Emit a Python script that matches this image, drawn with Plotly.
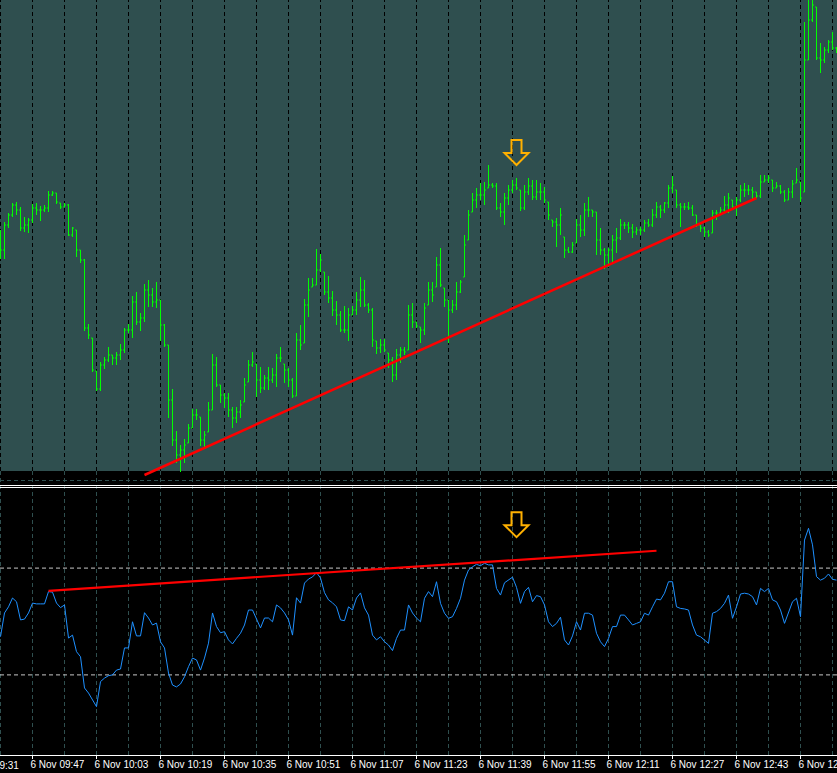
import plotly.graph_objects as go

W, H = 837, 773

# ---------------- data ----------------
bar_index = list(range(210))

high = [270, 278, 287, 297, 298, 293, 283, 282, 296, 297,
        294, 295, 309, 309, 307, 297, 297, 296, 273, 270,
        250, 241, 176, 162, 129, 138, 143, 153, 145, 148,
        156, 172, 176, 204, 208, 187, 216, 220, 212, 218,
        200, 176, 155, 111, 69, 55, 61, 76, 91, 91,
        83, 69, 98, 146, 143, 115, 107, 107, 93, 93,
        100, 122, 140, 148, 136, 133, 125, 133, 132, 146,
        153, 136, 132, 122, 167, 175, 201, 222, 222, 251,
        246, 228, 224, 209, 199, 189, 194, 192, 194, 208,
        223, 220, 197, 192, 159, 161, 161, 147, 143, 151,
        153, 153, 195, 197, 178, 173, 197, 218, 218, 243,
        252, 212, 200, 200, 218, 220, 265, 290, 307, 312,
        317, 318, 335, 317, 317, 297, 307, 315, 320, 322,
        310, 315, 322, 320, 320, 317, 313, 298, 280, 282,
        292, 263, 253, 258, 281, 285, 297, 303, 290, 288,
        272, 252, 252, 265, 272, 281, 278, 278, 276, 273,
        273, 280, 281, 291, 298, 295, 298, 315, 324, 310,
        297, 297, 298, 295, 285, 275, 273, 270, 290, 290,
        293, 304, 307, 300, 303, 315, 317, 315, 313, 308,
        325, 325, 325, 320, 318, 315, 310, 312, 320, 332,
        318, 478, 510, 510, 493, 457, 453, 460, 468, 453]

low = [241, 241, 272, 283, 285, 269, 268, 267, 277, 285,
       279, 288, 288, 304, 296, 291, 293, 264, 263, 243,
       237, 169, 161, 128, 109, 109, 131, 138, 135, 135,
       140, 147, 167, 162, 175, 169, 178, 193, 193, 192,
       159, 153, 82, 54, 37, 28, 37, 57, 72, 80,
       54, 53, 68, 90, 113, 97, 92, 83, 72, 77,
       82, 98, 118, 133, 103, 107, 110, 110, 117, 113,
       138, 117, 113, 102, 104, 150, 157, 183, 213, 215,
       228, 205, 197, 184, 175, 168, 167, 159, 185, 185,
       193, 193, 187, 153, 146, 147, 148, 132, 118, 120,
       137, 145, 150, 172, 172, 157, 165, 195, 198, 213,
       213, 193, 157, 187, 190, 207, 223, 260, 288, 292,
       300, 295, 312, 312, 290, 283, 275, 295, 307, 310,
       289, 290, 305, 300, 300, 300, 297, 280, 273, 253,
       265, 242, 247, 247, 257, 263, 264, 283, 283, 245,
       245, 231, 233, 237, 247, 260, 271, 267, 262, 265,
       265, 268, 273, 273, 282, 282, 287, 292, 307, 292,
       273, 290, 290, 284, 273, 268, 263, 263, 267, 280,
       285, 288, 287, 292, 284, 298, 303, 305, 300, 302,
       302, 318, 317, 308, 312, 306, 298, 300, 302, 317,
       298, 308, 440, 478, 440, 427, 437, 447, 450, 447]

open_ = [245, 250, 275, 285, 295, 290, 272, 275, 280, 292,
         290, 290, 292, 305, 307, 297, 293, 295, 265, 270,
         250, 240, 172, 162, 129, 111, 135, 140, 145, 142,
         145, 150, 170, 170, 198, 178, 182, 210, 205, 198,
         200, 175, 155, 100, 60, 45, 50, 57, 72, 85,
         83, 60, 68, 90, 135, 115, 105, 102, 90, 82,
         88, 98, 118, 135, 136, 120, 112, 122, 120, 125,
         142, 136, 130, 120, 104, 160, 157, 195, 213, 215,
         230, 228, 208, 202, 190, 185, 170, 170, 185, 190,
         200, 210, 195, 190, 159, 152, 155, 147, 140, 125,
         145, 150, 150, 185, 178, 173, 170, 195, 210, 213,
         235, 212, 200, 190, 195, 208, 223, 260, 288, 300,
         305, 305, 312, 315, 314, 292, 288, 302, 310, 315,
         310, 292, 308, 314, 303, 308, 308, 298, 280, 278,
         275, 263, 250, 248, 257, 275, 270, 290, 290, 288,
         260, 250, 245, 250, 260, 262, 275, 275, 272, 268,
         270, 270, 277, 275, 285, 293, 290, 297, 312, 310,
         295, 293, 293, 292, 285, 275, 272, 268, 267, 287,
         287, 290, 295, 300, 293, 300, 310, 310, 310, 308,
         304, 318, 320, 320, 312, 314, 308, 300, 308, 317,
         318, 308, 440, 480, 493, 442, 440, 450, 458, 452]

close = [250, 275, 285, 295, 290, 272, 275, 280, 292, 290,
         290, 292, 305, 307, 298, 293, 295, 265, 272, 250,
         240, 172, 165, 130, 111, 135, 140, 145, 142, 145,
         150, 170, 170, 198, 178, 182, 210, 205, 198, 200,
         175, 155, 100, 60, 45, 50, 55, 72, 85, 85,
         60, 65, 90, 135, 115, 105, 102, 90, 82, 88,
         95, 115, 135, 138, 120, 112, 122, 120, 125, 142,
         142, 130, 120, 104, 160, 155, 195, 210, 215, 230,
         240, 208, 202, 190, 185, 170, 170, 185, 190, 200,
         210, 195, 190, 160, 152, 155, 150, 140, 125, 145,
         150, 148, 185, 178, 174, 170, 192, 210, 205, 235,
         215, 200, 190, 195, 208, 218, 255, 285, 300, 305,
         305, 310, 315, 314, 292, 288, 302, 310, 315, 312,
         292, 308, 314, 303, 308, 308, 300, 285, 278, 275,
         285, 250, 248, 255, 275, 270, 290, 290, 288, 260,
         250, 245, 250, 260, 262, 275, 275, 272, 268, 270,
         270, 277, 275, 285, 293, 290, 297, 312, 315, 295,
         293, 293, 292, 285, 275, 272, 268, 265, 287, 287,
         290, 295, 302, 293, 300, 310, 310, 310, 308, 304,
         318, 320, 322, 312, 314, 308, 300, 308, 316, 320,
         302, 440, 480, 495, 442, 440, 450, 458, 452, 450]

rsi = [44.3, 53.2, 55.5, 58.8, 57.4, 50.6, 50.9, 53.2, 56.9, 56.6,
       56.6, 56.6, 61.2, 61.0, 56.9, 55.2, 56.2, 43.8, 44.9, 38.7,
       36.8, 25.1, 23.2, 20.6, 18.1, 27.5, 28.8, 29.7, 30.0, 31.8,
       32.2, 40.1, 40.1, 49.9, 44.6, 44.6, 53.3, 51.3, 48.7, 49.4,
       42.4, 40.1, 30.7, 26.2, 25.5, 26.6, 29.3, 33.1, 36.3, 35.6,
       31.8, 36.3, 41.9, 53.2, 48.1, 45.8, 46.2, 43.1, 41.6, 43.7,
       45.6, 48.7, 54.3, 54.3, 50.6, 47.6, 51.3, 51.3, 49.9, 56.2,
       55.1, 53.2, 50.6, 44.9, 58.9, 56.9, 64.4, 65.9, 66.7, 68.3,
       66.3, 60.8, 58.1, 57.0, 55.5, 50.6, 50.3, 55.5, 54.3, 58.8,
       60.7, 55.1, 52.4, 44.9, 43.1, 44.3, 42.4, 41.2, 39.1, 43.7,
       46.8, 46.8, 56.2, 53.2, 51.3, 49.9, 58.7, 61.2, 59.3, 64.9,
       56.8, 53.1, 51.2, 51.8, 54.9, 58.7, 65.5, 69.3, 70.5, 71.4,
       70.9, 71.8, 71.2, 71.2, 62.4, 59.9, 64.5, 65.5, 66.6, 62.8,
       56.8, 61.2, 62.8, 57.4, 59.7, 59.3, 56.2, 49.9, 48.1, 49.3,
       51.6, 43.1, 41.2, 44.6, 49.9, 46.8, 53.1, 53.1, 52.4, 45.6,
       42.4, 40.6, 43.7, 48.1, 48.1, 52.4, 52.4, 50.6, 48.7, 49.3,
       49.9, 53.1, 52.4, 55.5, 58.4, 58.1, 60.6, 64.9, 64.9, 55.5,
       54.9, 54.7, 54.3, 48.7, 44.9, 44.3, 43.1, 41.8, 53.1, 53.7,
       54.9, 56.8, 59.9, 51.2, 55.5, 60.3, 60.6, 60.3, 59.3, 56.2,
       62.4, 61.2, 62.4, 58.1, 57.4, 54.3, 49.3, 53.1, 57.4, 58.7,
       51.8, 80.5, 84.9, 78.7, 66.8, 65.5, 66.2, 67.8, 65.8, 65.5]

tick_bars = [8, 24, 40, 56, 72, 88, 104, 120, 136, 152, 168, 184, 200]
tick_labels = ["6 Nov 09:47", "6 Nov 10:03", "6 Nov 10:19", "6 Nov 10:35",
               "6 Nov 10:51", "6 Nov 11:07", "6 Nov 11:23", "6 Nov 11:39",
               "6 Nov 11:55", "6 Nov 12:11", "6 Nov 12:27", "6 Nov 12:43",
               "6 Nov 12:59"]
first_label = "6 Nov 09:31"
grid_bars = list(range(0, 210, 8))
rsi_levels = [70, 30]

price_trend_x = [36, 189]
price_trend_y = [25, 302]
rsi_trend_x = [12, 164]
rsi_trend_y = [61.5, 76.5]

arrow_bar = 129
arrow_price = 335
arrow_rsi = 81.6

# ---------------- styling ----------------
SLATE = "#2F4F4F"
LIME = "#00FF00"


def py(px):
    """pixel row -> paper fraction"""
    return 1 - px / H


fig = go.Figure()

fig.add_trace(go.Ohlc(
    x=bar_index, open=open_, high=high, low=low, close=close,
    increasing=dict(line=dict(color=LIME, width=1)),
    decreasing=dict(line=dict(color=LIME, width=1)),
    tickwidth=0.35, xaxis="x", yaxis="y", hoverinfo="skip", showlegend=False))

fig.add_trace(go.Scatter(
    x=price_trend_x, y=price_trend_y, mode="lines",
    line=dict(color="#FF0000", width=2.5), xaxis="x", yaxis="y",
    hoverinfo="skip", showlegend=False))

fig.add_trace(go.Scatter(
    x=bar_index, y=rsi, mode="lines",
    line=dict(color="#1E90FF", width=1), xaxis="x", yaxis="y2",
    hoverinfo="skip", showlegend=False))

fig.add_trace(go.Scatter(
    x=rsi_trend_x, y=rsi_trend_y, mode="lines",
    line=dict(color="#FF0000", width=2.2), xaxis="x", yaxis="y2",
    hoverinfo="skip", showlegend=False))

shapes = []
# slate background of price window
shapes.append(dict(type="rect", xref="paper", yref="paper", x0=0, x1=1,
                   y0=py(471), y1=1, fillcolor=SLATE, line=dict(width=0),
                   layer="below"))
# horizontal dashed grid line in the black strip
shapes.append(dict(type="line", xref="paper", yref="paper", x0=0, x1=1,
                   y0=py(480.5), y1=py(480.5),
                   line=dict(color=SLATE, width=1, dash="4px,3px"),
                   layer="below"))
# vertical grid lines
for b in grid_bars:
    shapes.append(dict(type="line", xref="x", yref="paper", x0=b, x1=b,
                       y0=py(471), y1=1,
                       line=dict(color="#000000", width=1, dash="4px,3px"),
                       layer="below"))
    shapes.append(dict(type="line", xref="x", yref="paper", x0=b, x1=b,
                       y0=py(755), y1=py(471),
                       line=dict(color=SLATE, width=1, dash="4px,3px"),
                       layer="below"))
# window separator
for yy in (485.5, 487.5):
    shapes.append(dict(type="line", xref="paper", yref="paper", x0=0, x1=1,
                       y0=py(yy), y1=py(yy),
                       line=dict(color="#FFFFFF", width=1), layer="below"))
# RSI levels
for lv in rsi_levels:
    shapes.append(dict(type="line", xref="paper", yref="y2", x0=0, x1=1,
                       y0=lv, y1=lv,
                       line=dict(color="#C8C8C8", width=1, dash="4px,3px"),
                       layer="below"))

# hollow down arrows (pixel-sized, anchored at data point = tip)
arrow_path = "M0,0 L-12,12 L-5,12 L-5,25 L5,25 L5,12 L12,12 Z"
for ya, yv in (("y", arrow_price), ("y2", arrow_rsi)):
    shapes.append(dict(type="path", xref="x", yref=ya,
                       xsizemode="pixel", ysizemode="pixel",
                       xanchor=arrow_bar, yanchor=yv, path=arrow_path,
                       line=dict(color="#FFB000", width=2),
                       fillcolor="rgba(0,0,0,0)", layer="above"))

fig.update_layout(
    width=W, height=H,
    margin=dict(l=0, r=0, t=0, b=0, autoexpand=False),
    paper_bgcolor="#000000",
    plot_bgcolor="rgba(0,0,0,0)",
    showlegend=False,
    shapes=shapes,
    xaxis=dict(range=[-0.125, 209.125], anchor="y2", showgrid=False,
               zeroline=False, showline=True, linecolor="#FFFFFF", linewidth=1,
               ticks="outside", ticklen=3, tickcolor="#FFFFFF", tickwidth=1,
               tickvals=tick_bars, ticktext=tick_labels, tickangle=0,
               automargin=False, ticklabelshift=-3,
               ticklabelposition="outside right", ticklabeloverflow="allow",
               tickfont=dict(family="Liberation Sans", size=10, color="#FFFFFF"),
               rangeslider=dict(visible=False), fixedrange=True),
    yaxis=dict(domain=[py(484), 1], range=[16, 500], anchor="x",
               visible=False, fixedrange=True, automargin=False),
    yaxis2=dict(domain=[py(755), py(488)], range=[0, 100], anchor="x",
                visible=False, fixedrange=True, automargin=False),
    annotations=[dict(text=first_label, xref="paper", yref="paper",
                      x=21 / W, y=py(765.5), xanchor="right", yanchor="middle",
                      showarrow=False,
                      font=dict(family="Liberation Sans", size=10,
                                color="#FFFFFF"))],
)

fig.write_html("out.html")
